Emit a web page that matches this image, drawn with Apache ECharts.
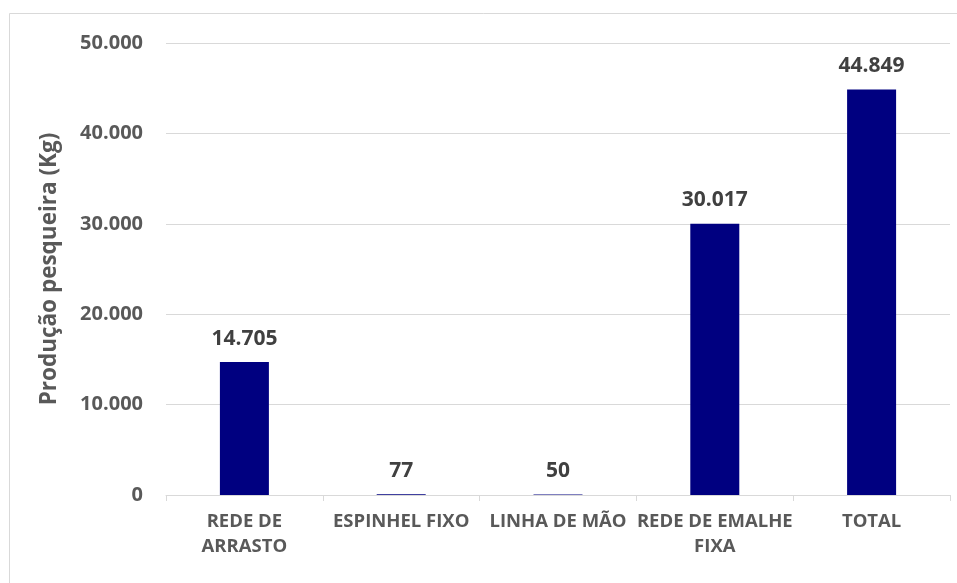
<!DOCTYPE html>
<html><head><meta charset="utf-8">
<script src="https://cdn.jsdelivr.net/npm/echarts@6/dist/echarts.min.js"></script>
<style>html,body{margin:0;padding:0;background:#fff}#c{width:957px;height:583px}</style>
</head><body><div id="c"></div>
<script>
const categories = ['REDE DE\nARRASTO', 'ESPINHEL FIXO', 'LINHA DE MÃO', 'REDE DE EMALHE\nFIXA', 'TOTAL'];
const values = [14705, 77, 50, 30017, 44849];
const yTicks = [0, 10000, 20000, 30000, 40000, 50000];

function fmt(v) { return String(v).replace(/\B(?=(\d{3})+(?!\d))/g, '.'); }
const FONT = '"Open Sans", sans-serif';
const chart = echarts.init(document.getElementById('c'), null, {renderer: 'canvas'});
chart.setOption({
  animation: false,
  backgroundColor: '#fff',
  graphic: [{type: 'rect', shape: {x: 9.5, y: 13.5, width: 960, height: 600}, style: {fill: 'none', stroke: '#d9d9d9', lineWidth: 1}}],
  grid: {left: 166, right: 7, top: 43, bottom: 88},
  xAxis: {
    type: 'category', data: categories,
    axisLine: {lineStyle: {color: '#d9d9d9', width: 1}},
    axisTick: {show: true, length: 6, lineStyle: {color: '#d9d9d9'}},
    axisLabel: {color: '#595959', fontFamily: FONT, fontWeight: 'bold', fontSize: 18.5, lineHeight: 25, margin: 14, interval: 0}
  },
  yAxis: {
    type: 'value', min: yTicks[0], max: yTicks[yTicks.length - 1], interval: 10000,
    name: 'Produção pesqueira (Kg)', nameLocation: 'middle', nameGap: 105,
    nameTextStyle: {color: '#595959', fontFamily: FONT, fontWeight: 'bold', fontSize: 22.5},
    axisLine: {show: false}, axisTick: {show: false},
    splitLine: {lineStyle: {color: '#d9d9d9', width: 1}},
    axisLabel: {color: '#595959', fontFamily: FONT, fontWeight: 'bold', fontSize: 20, margin: 23, formatter: v => fmt(v)}
  },
  series: [{
    type: 'bar', data: values, barWidth: 49,
    itemStyle: {color: '#000080'},
    label: {show: true, position: 'top', distance: 13, color: '#404040', fontFamily: FONT, fontWeight: 'bold', fontSize: 21, formatter: p => fmt(p.value)}
  }]
});
</script></body></html>
